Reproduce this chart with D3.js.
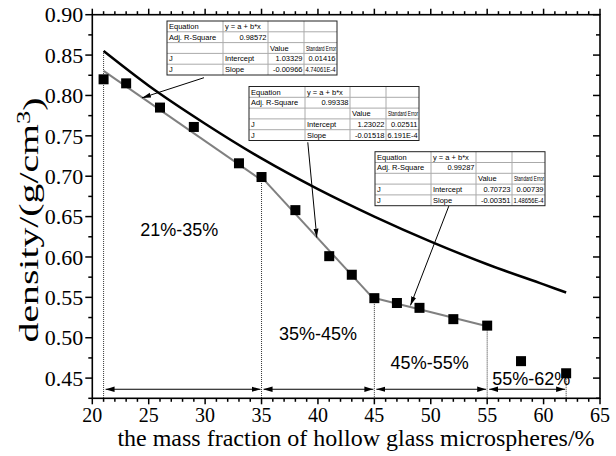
<!DOCTYPE html>
<html>
<head>
<meta charset="utf-8">
<script src="https://cdn.jsdelivr.net/npm/d3@7"></script>
<style>
  body { margin: 0; background: #fff; }
</style>
</head>
<body>
<div class="chart"></div>
<script>
// measured points
var massFraction = [21, 23, 26, 29, 33, 35, 38, 41, 43, 45, 47, 49, 52, 55, 58, 62];
var density = [0.820, 0.815, 0.785, 0.761, 0.716, 0.699, 0.658, 0.601, 0.578, 0.549, 0.543, 0.537, 0.523, 0.515, 0.471, 0.456];

// theoretical curve
var curveX = [21, 25, 30, 35, 40, 45, 50, 55, 60, 62];
var curveY = [0.855, 0.812, 0.765, 0.722, 0.684, 0.650, 0.619, 0.591, 0.566, 0.556];

// linear fits per range
var fitStart = [21, 35, 45];
var fitEnd = [35, 45, 55];
var intercepts = [1.03329, 1.23022, 0.70723];
var slopes = [-0.00966, -0.01518, -0.00351];
var adjR2 = ["0.98572", "0.99338", "0.99287"];
var interceptText = ["1.03329", "1.23022", "0.70723"];
var interceptErr = ["0.01416", "0.02511", "0.00739"];
var slopeText = ["-0.00966", "-0.01518", "-0.00351"];
var slopeErr = ["4.74061E-4", "6.191E-4", "1.48656E-4"];

// ranges
var bounds = [21, 35, 45, 55, 62];
var boundTop = [0.855, 0.699, 0.549, 0.515, 0.456];
var rangeLabels = ["21%-35%", "35%-45%", "45%-55%", "55%-62%"];
var rangeLabelX = [27.7, 40.0, 49.9, 58.9];
var rangeLabelY = [0.633, 0.505, 0.469, 0.449];

var xTicks = [20, 25, 30, 35, 40, 45, 50, 55, 60, 65];
var yTicks = [0.45, 0.50, 0.55, 0.60, 0.65, 0.70, 0.75, 0.80, 0.85, 0.90];

var w = 616;
var h = 456;
var pLeft = 92.3, pRight = 600, pTop = 14.7, pBottom = 398.3;

var x = d3.scaleLinear().domain([20, 65]).range([pLeft, pRight]);
var y = d3.scaleLinear().domain([0.425, 0.90]).range([pBottom, pTop]);

var svg = d3.select(".chart")
            .append("svg")
            .attr("width", w)
            .attr("height", h)
            .style("font-family", "'Liberation Serif', 'Times New Roman', serif");

var defs = svg.append("defs");
defs.append("marker")
    .attr("id", "head")
    .attr("viewBox", "0 0 10 10")
    .attr("refX", 10).attr("refY", 5)
    .attr("markerWidth", 9).attr("markerHeight", 9)
    .attr("markerUnits", "userSpaceOnUse")
    .attr("orient", "auto-start-reverse")
    .append("path")
    .attr("d", "M0,2 L10,5 L0,8 Z")
    .attr("fill", "#000");
defs.append("marker")
    .attr("id", "thin")
    .attr("viewBox", "0 0 10 10")
    .attr("refX", 10).attr("refY", 5)
    .attr("markerWidth", 9).attr("markerHeight", 9)
    .attr("markerUnits", "userSpaceOnUse")
    .attr("orient", "auto")
    .append("path")
    .attr("d", "M0,2.2 L10,5 L0,7.8 Z")
    .attr("fill", "#000");

// dotted boundary lines
svg.selectAll("line.bound")
   .data(bounds)
   .enter()
   .append("line")
   .attr("x1", function(d) { return x(d); })
   .attr("x2", function(d) { return x(d); })
   .attr("y1", function(d, i) { return y(boundTop[i]); })
   .attr("y2", pBottom)
   .attr("stroke", "#333")
   .attr("stroke-width", 1)
   .attr("stroke-dasharray", "1,1");

// range arrows
svg.selectAll("line.range")
   .data(rangeLabels)
   .enter()
   .append("line")
   .attr("x1", function(d, i) { return x(bounds[i]) + 2; })
   .attr("x2", function(d, i) { return x(bounds[i + 1]) - 1; })
   .attr("y1", y(0.4362))
   .attr("y2", y(0.4362))
   .attr("stroke", "#000")
   .attr("stroke-width", 1)
   .attr("marker-start", "url(#head)")
   .attr("marker-end", "url(#head)");

svg.selectAll("text.range")
   .data(rangeLabels)
   .enter()
   .append("text")
   .attr("x", function(d, i) { return x(rangeLabelX[i]); })
   .attr("y", function(d, i) { return y(rangeLabelY[i]); })
   .attr("text-anchor", "middle")
   .attr("dominant-baseline", "central")
   .style("font-family", "'Liberation Sans', Arial, sans-serif")
   .style("font-size", "18px")
   .text(function(d) { return d; });

// theoretical curve
var line = d3.line()
             .x(function(d) { return x(d[0]); })
             .y(function(d) { return y(d[1]); })
             .curve(d3.curveMonotoneX);

svg.append("path")
   .datum(d3.zip(curveX, curveY))
   .attr("d", line)
   .attr("fill", "none")
   .attr("stroke", "#000")
   .attr("stroke-width", 2.5);

// fit lines
svg.selectAll("line.fit")
   .data(intercepts)
   .enter()
   .append("line")
   .attr("x1", function(d, i) { return x(fitStart[i]); })
   .attr("x2", function(d, i) { return x(fitEnd[i]); })
   .attr("y1", function(d, i) { return y(d + slopes[i] * fitStart[i]); })
   .attr("y2", function(d, i) { return y(d + slopes[i] * fitEnd[i]); })
   .attr("stroke", "#808080")
   .attr("stroke-width", 2);

// points
svg.selectAll("rect.pt")
   .data(massFraction)
   .enter()
   .append("rect")
   .attr("x", function(d) { return x(d) - 5; })
   .attr("y", function(d, i) { return y(density[i]) - 5; })
   .attr("width", 10)
   .attr("height", 10)
   .attr("fill", "#000");

// fit tables
var tableX = [167, 249, 375];
var tableY = [21, 86.5, 151.7];
var cols = [0, 56, 101, 137, 170];
var rowH = 10.8;

tableX.forEach(function(tx, k) {
  var g = svg.append("g").attr("transform", "translate(" + tx + "," + tableY[k] + ")")
             .style("font-family", "'Liberation Sans', Arial, sans-serif")
             .style("font-size", "7.5px");
  g.append("rect")
   .attr("width", cols[4]).attr("height", rowH * 5)
   .attr("fill", "#fff");
  for (var r = 1; r < 5; r++) {
    g.append("line").attr("x1", 0).attr("x2", cols[4])
     .attr("y1", r * rowH).attr("y2", r * rowH)
     .attr("stroke", "#aaa").attr("stroke-width", 1);
  }
  for (var c = 1; c < 4; c++) {
    g.append("line").attr("x1", cols[c]).attr("x2", cols[c])
     .attr("y1", 0).attr("y2", rowH * 5)
     .attr("stroke", "#aaa").attr("stroke-width", 1);
  }
  g.append("rect")
   .attr("width", cols[4]).attr("height", rowH * 5)
   .attr("fill", "none").attr("stroke", "#222").attr("stroke-width", 1);

  var cells = [
    [0, 0, "Equation", "start"], [0, 1, "y = a + b*x", "start"],
    [1, 0, "Adj. R-Square", "start"], [1, 1, adjR2[k], "end"],
    [2, 2, "Value", "start"], [2, 3, "Standard Error", "start"],
    [3, 0, "J", "start"], [3, 1, "Intercept", "start"], [3, 2, interceptText[k], "end"], [3, 3, interceptErr[k], "end"],
    [4, 0, "J", "start"], [4, 1, "Slope", "start"], [4, 2, slopeText[k], "end"], [4, 3, slopeErr[k], "end"]
  ];
  g.selectAll("text")
   .data(cells)
   .enter()
   .append("text")
   .attr("x", function(d) { return d[3] == "end" ? cols[d[1] + 1] - 1.5 : cols[d[1]] + 2; })
   .attr("y", function(d) { return d[0] * rowH + 8; })
   .attr("text-anchor", function(d) { return d[3]; })
   .text(function(d) { return d[2]; })
   .each(function(d) {
     // squeeze text that is wider than its cell
     var room = cols[d[1] + 1] - cols[d[1]] - 3;
     if (this.getComputedTextLength() > room) {
       d3.select(this).attr("textLength", room).attr("lengthAdjust", "spacingAndGlyphs");
     }
   });
});

// annotation arrows
var arrowFrom = [[29.9, 0.822], [39.1, 0.742], [51.6, 0.663]];
var arrowTo = [[24.4, 0.797], [39.9, 0.624], [48.2, 0.540]];
svg.selectAll("line.note")
   .data(arrowFrom)
   .enter()
   .append("line")
   .attr("x1", function(d) { return x(d[0]); })
   .attr("y1", function(d) { return y(d[1]); })
   .attr("x2", function(d, i) { return x(arrowTo[i][0]); })
   .attr("y2", function(d, i) { return y(arrowTo[i][1]); })
   .attr("stroke", "#000")
   .attr("stroke-width", 1)
   .attr("marker-end", "url(#thin)");

// axes
var xMinor = d3.range(20, 66, 1);
var yMinor = d3.range(0, 20).map(function(i) { return 0.425 + i * 0.025; });

var axes = svg.append("g").attr("stroke", "#000");
axes.append("rect")
    .attr("x", pLeft).attr("y", pTop)
    .attr("width", pRight - pLeft).attr("height", pBottom - pTop)
    .attr("fill", "none").attr("stroke-width", 1.6);

axes.selectAll("line.xt")
    .data(xMinor)
    .enter()
    .append("line")
    .attr("x1", function(d) { return x(d); })
    .attr("x2", function(d) { return x(d); })
    .attr("y1", pBottom)
    .attr("y2", function(d) { return pBottom + (d % 5 == 0 ? 6 : 3.5); })
    .attr("stroke-width", 1.5);
axes.selectAll("line.xtt")
    .data(xMinor)
    .enter()
    .append("line")
    .attr("x1", function(d) { return x(d); })
    .attr("x2", function(d) { return x(d); })
    .attr("y1", pTop)
    .attr("y2", function(d) { return pTop - (d % 5 == 0 ? 6 : 3.5); })
    .attr("stroke-width", 1.5);
axes.selectAll("line.yt")
    .data(yMinor)
    .enter()
    .append("line")
    .attr("y1", function(d) { return y(d); })
    .attr("y2", function(d) { return y(d); })
    .attr("x1", pLeft)
    .attr("x2", function(d, i) { return pLeft - (i % 2 == 1 ? 7 : 4); })
    .attr("stroke-width", 1.5);
axes.selectAll("line.ytr")
    .data(yMinor)
    .enter()
    .append("line")
    .attr("y1", function(d) { return y(d); })
    .attr("y2", function(d) { return y(d); })
    .attr("x1", pRight)
    .attr("x2", function(d, i) { return pRight - (i % 2 == 1 ? 7 : 4); })
    .attr("stroke-width", 1.5);

svg.selectAll("text.xl")
   .data(xTicks)
   .enter()
   .append("text")
   .attr("x", function(d) { return x(d); })
   .attr("y", 422)
   .attr("text-anchor", "middle")
   .style("font-size", "20px")
   .text(function(d) { return d; });

svg.selectAll("text.yl")
   .data(yTicks)
   .enter()
   .append("text")
   .attr("x", pLeft - 9)
   .attr("y", function(d) { return y(d); })
   .attr("dy", "0.35em")
   .attr("text-anchor", "end")
   .style("font-size", "22px")
   .text(function(d) { return d.toFixed(2); });

svg.append("text")
   .attr("x", 356)
   .attr("y", 446)
   .attr("text-anchor", "middle")
   .style("font-size", "24px")
   .text("the mass fraction of hollow glass microspheres/%");

// y title, a little stretched along its length as in the picture
var ylg = svg.append("g");
var yl = ylg.append("text")
   .attr("text-anchor", "middle")
   .style("font-size", "27px");
yl.append("tspan").text("density/(g/cm");
yl.append("tspan").attr("dy", "-0.45em").style("font-size", "18px").text("3");
yl.append("tspan").attr("dy", "0.45em").text(")");
var stretch = 245 / yl.node().getComputedTextLength();
ylg.attr("transform", "translate(38,220) rotate(-90) scale(" + stretch + ",1)");
</script>
</body>
</html>
